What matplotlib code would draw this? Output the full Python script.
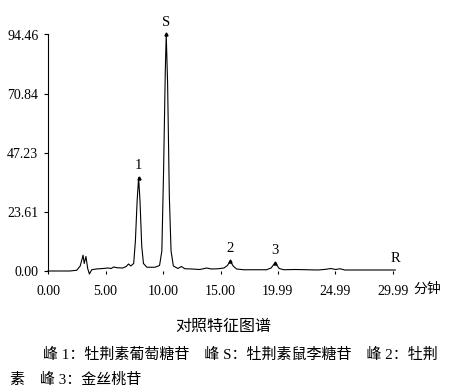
import matplotlib
matplotlib.use("Agg")
import matplotlib.pyplot as plt

plt.rcParams['font.family'] = ['Liberation Serif', 'Noto Sans CJK SC', 'DejaVu Sans']

# chromatogram trace (retention time in min, response)
time_min = [0, 1.9, 2.5, 2.8, 3.05, 3.15, 3.3, 3.45, 3.6, 3.8, 4.2, 4.8, 5.2, 5.5,
            5.7, 6.0, 6.5, 6.8, 7.0, 7.2, 7.45, 7.6, 7.75, 7.88, 8.0, 8.15, 8.3,
            8.6, 9.3, 9.7, 9.9, 10.05, 10.2, 10.28, 10.4, 10.55, 10.7, 10.9, 11.3,
            11.6, 11.9, 12.5, 13.2, 13.8, 14.2, 14.8, 15.3, 15.6, 15.85, 16.1,
            16.4, 17.0, 18.0, 19.0, 19.4, 19.75, 20.1, 20.5, 21.5, 22.5, 23.5,
            24.2, 24.6, 25.0, 25.4, 25.8, 27.0, 28.5, 30.2]
response = [0, 0, 0.3, 2.0, 6.3, 3.0, 5.8, 1.0, -1.2, 0.5, 0.8, 1.0, 1.2, 1.0,
            1.6, 1.3, 1.2, 1.8, 2.8, 2.0, 3.0, 12, 28, 37.3, 28, 10, 3.0,
            1.5, 1.5, 2.2, 8, 40, 80, 94.46, 75, 30, 8, 2.0, 1.0,
            1.8, 0.9, 0.8, 0.6, 1.2, 0.8, 0.9, 1.2, 2.2, 4.0, 2.0,
            0.8, 0.5, 0.5, 0.5, 1.2, 3.3, 1.0, 0.5, 0.6, 0.5, 0.4,
            0.7, 1.0, 0.6, 0.9, 0.4, 0.4, 0.4, 0.4]

peak_labels = ["1", "S", "2", "3"]
peak_times = [7.88, 10.28, 15.85, 19.75]
peak_heights = [37.3, 94.46, 4.0, 3.3]

x_ticks = [0, 5, 10, 15, 19.99, 24.99, 29.99]
x_tick_labels = ["0.00", "5.00", "10.00", "15.00", "19.99", "24.99", "29.99"]
y_ticks = [0, 23.61, 47.23, 70.84, 94.46]
y_tick_labels = ["0.00", "23.61", "47.23", "70.84", "94.46"]

W, H = 469, 392
fig = plt.figure(figsize=(W / 100, H / 100), dpi=100)
ax = fig.add_axes([48 / W, (H - 271) / H, 356.5 / W, 236.5 / H])
ax.set_xlim(0, 31)
ax.set_ylim(0, 94.46)

ax.plot(time_min, response, color='black', lw=0.8, clip_on=False)
for lab, t, h in zip(peak_labels, peak_times, peak_heights):
    ax.plot([t], [h], marker='^', ms=2.2, color='black', clip_on=False)
    ax.annotate(lab, xy=(t, h), xytext=(0, 9), textcoords='offset points',
                ha='center', va='center', fontsize=10.5)
ax.annotate("R", xy=(30.2, 0.4), xytext=(0, 8), textcoords='offset points',
            ha='center', va='center', fontsize=10.5)

for s in ['top', 'right', 'bottom']:
    ax.spines[s].set_visible(False)
ax.spines['left'].set_linewidth(0.8)

ax.set_xticks(x_ticks)
ax.set_xticklabels(x_tick_labels, fontsize=10)
ax.set_yticks(y_ticks)
ax.set_yticklabels(y_tick_labels, fontsize=10)
ax.tick_params(axis='x', direction='out', length=2, width=0.8, pad=8)
ax.tick_params(axis='y', direction='out', length=3, width=0.8, pad=4)

ax.annotate("分钟", xy=(29.99, 0), xycoords='data', xytext=(14.5, -13.3),
            textcoords='offset points', ha='left', va='center', fontsize=10)

fig.text(223 / W, 1 - 327 / H, "对照特征图谱", ha='center', va='center', fontsize=11.5)
fig.text(43 / W, 1 - 355 / H,
         "峰 1：牡荆素葡萄糖苷　峰 S：牡荆素鼠李糖苷　峰 2：牡荆",
         ha='left', va='center', fontsize=10.8)
fig.text(10 / W, 1 - 380 / H, "素　峰 3：金丝桃苷", ha='left', va='center', fontsize=10.8)

fig.savefig("out.png", dpi=100)
